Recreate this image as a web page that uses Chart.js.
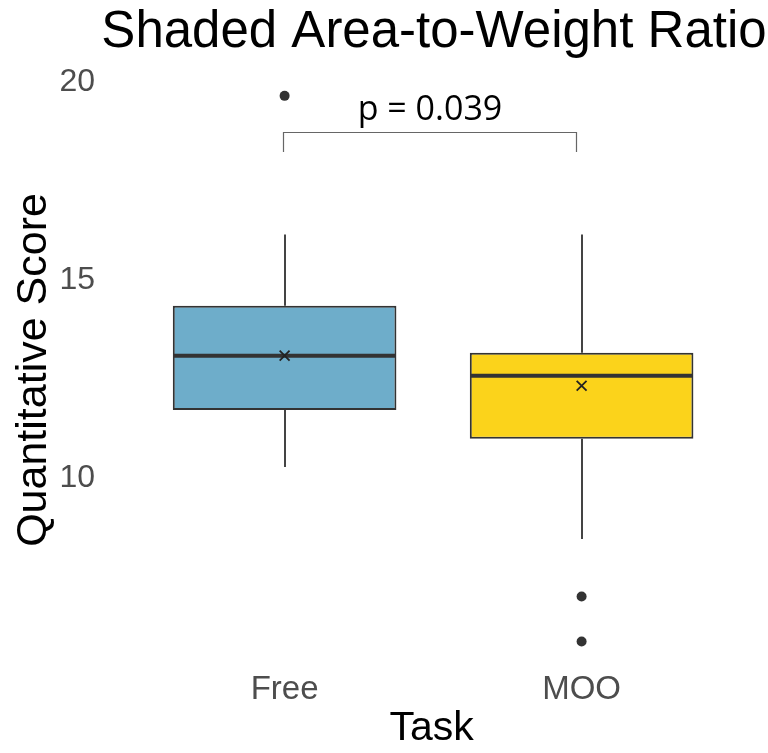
<!DOCTYPE html>
<html>
<head>
<meta charset="utf-8">
<script src="https://cdn.jsdelivr.net/npm/chart.js@4.4.1/dist/chart.umd.min.js"></script>
<style>
  html, body { margin: 0; padding: 0; background: #ffffff; }
  #wrap { width: 768px; height: 753px; }
</style>
</head>
<body>
<div id="wrap"><canvas id="c" width="768" height="753"></canvas></div>
<script>
// ---- data ----
const categories = ['Free', 'MOO'];
const q1Values = [11.72, 10.99];
const q3Values = [14.35, 13.16];
const medianValues = [13.09, 12.58];
const meanValues = [13.09, 12.33];
const whiskerLow = [10.28, 8.46];
const whiskerHigh = [16.15, 16.15];
const outlierFree = [19.65];
const outlierMOO = [7.01, 5.87];
const yTickValues = [10, 15, 20];
const boxColors = ['#6EADCA', '#FBD31B'];
const titleText = 'Shaded Area-to-Weight Ratio';
const pText = 'p = 0.039';
const bracketLevels = [18.74, 18.23]; // bracket line, bracket tips
const bracketEnds = [0.993, 1.98];    // bracket x ends (in category units)

const positions = categories.map((_, i) => i + 1);

const boxData = positions.map((x, i) => ({ x: x, y: [q1Values[i], q3Values[i]] }));
const meanData = positions.map((x, i) => ({ x: x, y: meanValues[i] }));
const outlierData = []
  .concat(outlierFree.map(v => ({ x: positions[0], y: v })))
  .concat(outlierMOO.map(v => ({ x: positions[1], y: v })));

const boxPlugin = {
  id: 'boxParts',
  beforeDatasetsDraw(chart) {
    const ctx = chart.ctx, xs = chart.scales.x, ys = chart.scales.y;
    ctx.save();
    ctx.strokeStyle = '#444444';
    ctx.lineWidth = 2;
    positions.forEach((p, i) => {
      const px = Math.round(xs.getPixelForValue(p));
      ctx.beginPath();
      ctx.moveTo(px, ys.getPixelForValue(whiskerHigh[i]));
      ctx.lineTo(px, ys.getPixelForValue(q3Values[i]));
      ctx.moveTo(px, ys.getPixelForValue(q1Values[i]));
      ctx.lineTo(px, ys.getPixelForValue(whiskerLow[i]));
      ctx.stroke();
    });
    ctx.restore();
  },
  afterDatasetDraw(chart, args) {
    if (args.index !== 2) return;
    const ctx = chart.ctx, ys = chart.scales.y;
    const meta = chart.getDatasetMeta(2);
    ctx.save();
    ctx.strokeStyle = '#333333';
    ctx.lineWidth = 4;
    meta.data.forEach((bar, i) => {
      const half = bar.width / 2;
      const py = ys.getPixelForValue(medianValues[i]);
      ctx.beginPath();
      ctx.moveTo(bar.x - half + 1, py);
      ctx.lineTo(bar.x + half - 1, py);
      ctx.stroke();
    });
    ctx.restore();
  },
  afterDraw(chart) {
    const ctx = chart.ctx, xs = chart.scales.x, ys = chart.scales.y;
    ctx.save();
    // title
    ctx.fillStyle = '#000000';
    ctx.font = "51px 'Liberation Sans', Arial, sans-serif";
    ctx.textAlign = 'center';
    ctx.textBaseline = 'alphabetic';
    ctx.fillText(titleText, 434, 47);
    // significance bracket
    const x1 = Math.round(xs.getPixelForValue(bracketEnds[0])) + 0.5;
    const x2 = Math.round(xs.getPixelForValue(bracketEnds[1])) + 0.5;
    const yb = Math.round(ys.getPixelForValue(bracketLevels[0])) + 0.5;
    const yt = ys.getPixelForValue(bracketLevels[1]);
    ctx.strokeStyle = '#666666';
    ctx.lineWidth = 1.2;
    ctx.beginPath();
    ctx.moveTo(x1, yt);
    ctx.lineTo(x1, yb);
    ctx.lineTo(x2, yb);
    ctx.lineTo(x2, yt);
    ctx.stroke();
    ctx.font = "34px 'Open Sans', sans-serif";
    ctx.fillStyle = '#000000';
    ctx.fillText(pText, (x1 + x2) / 2, yb - 13);
    ctx.restore();
  }
};

new Chart(document.getElementById('c'), {
  type: 'bar',
  data: {
    datasets: [
      {
        type: 'scatter',
        label: 'mean',
        data: meanData,
        pointStyle: 'crossRot',
        pointRadius: 7,
        borderColor: '#222222',
        backgroundColor: '#222222',
        borderWidth: 1.8,
        showLine: false,
        clip: false,
        order: 1
      },
      {
        type: 'scatter',
        label: 'outliers',
        data: outlierData,
        pointStyle: 'circle',
        pointRadius: 5,
        borderWidth: 0,
        backgroundColor: '#333333',
        borderColor: '#333333',
        showLine: false,
        clip: false,
        order: 1
      },
      {
        type: 'bar',
        label: 'box',
        data: boxData,
        backgroundColor: boxColors,
        borderColor: '#333333',
        borderWidth: 2,
        borderSkipped: false,
        barPercentage: 0.753,
        categoryPercentage: 1,
        order: 2
      }
    ]
  },
  options: {
    responsive: false,
    animation: false,
    events: [],
    layout: { padding: { top: 70, left: 0, right: 0, bottom: 0 } },
    plugins: {
      legend: { display: false },
      tooltip: { enabled: false },
      title: { display: false }
    },
    scales: {
      x: {
        type: 'linear',
        offset: false,
        min: 0.39189,
        max: 2.59797,
        grid: { display: false, drawTicks: false, offset: false },
        border: { display: false },
        afterBuildTicks: (s) => { s.ticks = positions.map(v => ({ value: v })); },
        afterFit: (s) => { s.height = 83; },
        ticks: {
          padding: 0,
          color: '#4D4D4D',
          font: { family: "'Liberation Sans', Arial, sans-serif", size: 33 },
          callback: (v, i) => categories[i]
        },
        title: {
          display: true,
          text: 'Task',
          color: '#000000',
          padding: { top: 0, bottom: 0 },
          font: { family: "'Liberation Sans', Arial, sans-serif", size: 41 }
        }
      },
      y: {
        min: 5.152,
        max: 20.303,
        grid: { display: false, drawTicks: false },
        border: { display: false },
        afterBuildTicks: (s) => { s.ticks = yTickValues.map(v => ({ value: v })); },
        afterFit: (s) => { s.width = 104; },
        ticks: {
          padding: 9,
          color: '#4D4D4D',
          font: { family: "'Liberation Sans', Arial, sans-serif", size: 32 }
        },
        title: {
          display: true,
          text: 'Quantitative Score',
          color: '#000000',
          padding: { top: 8, bottom: 0 },
          font: { family: "'Liberation Sans', Arial, sans-serif", size: 43 }
        }
      }
    }
  },
  plugins: [boxPlugin]
});
</script>
</body>
</html>
